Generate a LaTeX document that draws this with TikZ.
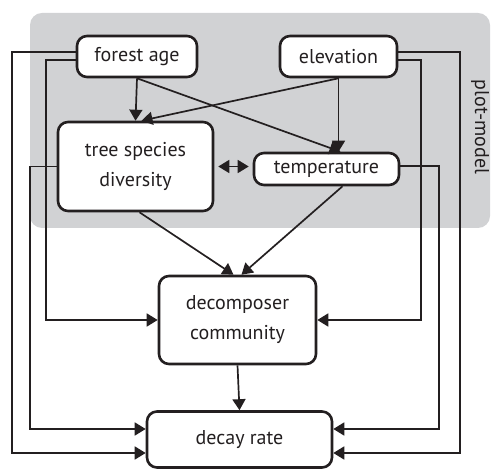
\documentclass[tikz,border=0pt]{standalone}
\usepackage{fontspec}
\setmainfont{PT Sans}
\usepackage{xcolor}
\usetikzlibrary{arrows.meta,positioning}
\definecolor{panelgray}{HTML}{D1D2D4}
\definecolor{ink}{HTML}{231F20}

\begin{document}
\begin{tikzpicture}[x=0.5pt,y=-0.5pt,
		box/.style={draw=ink, line width=1.3pt, rounded corners=5pt, fill=white, align=center, inner sep=0pt, text=ink, font=\fontsize{10}{15}\selectfont},
		arr/.style={draw=ink, -{Triangle[length=5.5pt,width=6.5pt]}, line width=0.85pt},
		dblarr/.style={draw=ink, {Triangle[length=5.5pt,width=6.5pt]}-{Triangle[length=5.5pt,width=6.5pt]}, line width=0.85pt}
		]
		\useasboundingbox (0,0) rectangle (492,469);

		% plot-model panel
		\fill[panelgray, rounded corners=6pt] (30,13) rectangle (490,228);
		\node[rotate=-90, text=ink, font=\fontsize{10}{12}\selectfont] (plot) at (480,127) {plot-model};

		% boxes
		\node[box, minimum width=60pt, minimum height=20.5pt] (age) at (137,56.5) {forest age};
		\node[box, minimum width=58.5pt, minimum height=20.5pt] (elev) at (338.5,56.5) {elevation};
		\node[box, minimum width=77.5pt, minimum height=44.5pt] (tree) at (135.5,166.5) {tree species\\diversity};
		\node[box, minimum width=72.5pt, minimum height=16pt] (temp) at (326.5,169) {temperature};
		\node[box, minimum width=78.5pt, minimum height=44pt] (decomp) at (237.5,320) {decomposer\\community};
		\node[box, minimum width=92.5pt, minimum height=28pt] (decay) at (239.5,439.5) {decay rate};

		% inside the panel
		\draw[arr] (age.south) -- (tree.north);
		\draw[arr] (age.south) -- ([xshift=7pt]temp.north);
		\draw[arr] (elev.south) -- (elev.south |- temp.north);
		\draw[arr] (elev.south) -- ([xshift=3pt]tree.north);
		\draw[dblarr, shorten <=2pt, shorten >=2pt] (tree.east) -- (temp.west |- tree.east);

		% down to the decomposers
		\draw[arr] ([xshift=2pt]tree.south) -- ([xshift=-2pt]decomp.north);
		\draw[arr] ([xshift=8pt]temp.south) -- ([xshift=2pt]decomp.north);
		\draw[arr] (decomp.south) -- (decay.north);

		% left side
		\draw[arr] ([yshift=2.25pt]age.west) -- ++(-64,0) |- ([yshift=-6.75pt]decay.west);
		\draw[arr] ([yshift=-1.75pt]age.west) -- ++(-30,0) |- (decomp.west);
		\draw[arr] (tree.west) -- ++(-27,0) |- ([yshift=5.25pt]decay.west);

		% right side
		\draw[arr] ([yshift=2.25pt]elev.east) -- ++(62,0) |- ([yshift=-6.75pt]decay.east);
		\draw[arr] ([yshift=-1.75pt]elev.east) -- ++(23,0) |- (decomp.east);
		\draw[arr] ([yshift=1.5pt]temp.east) -- ++(39,0) |- ([yshift=5.25pt]decay.east);
	\end{tikzpicture}
\end{document}
